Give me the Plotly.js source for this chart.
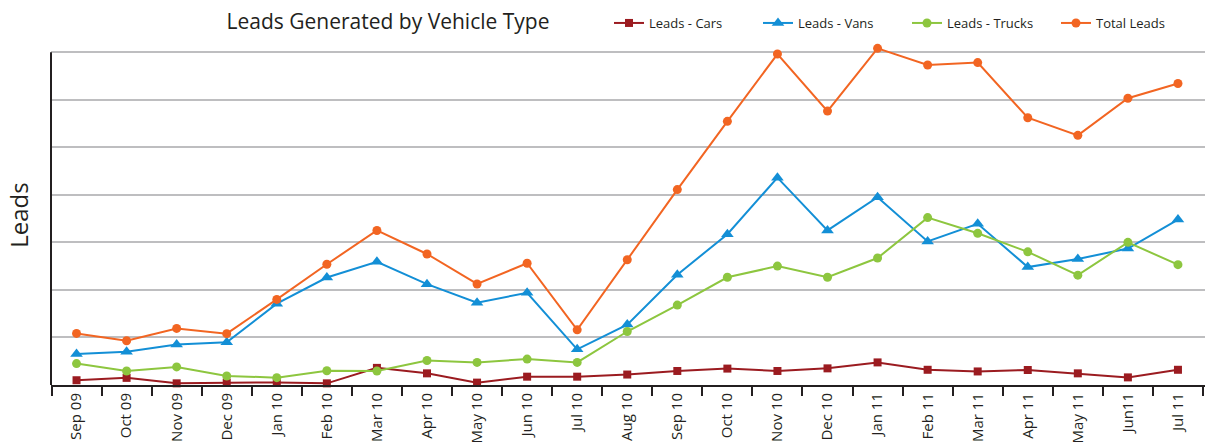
<!DOCTYPE html>
<html>
<head>
<meta charset="utf-8">
<script src="https://cdn.plot.ly/plotly-3.0.1.min.js"></script>
<style>html,body{margin:0;padding:0;background:#fff;}#chart{width:1207px;height:444px;}</style>
</head>
<body>
<div id="chart"></div>
<script>
const months = ["Sep 09","Oct 09","Nov 09","Dec 09","Jan 10","Feb 10","Mar 10","Apr 10","May 10","Jun 10","Jul 10","Aug 10","Sep 10","Oct 10","Nov 10","Dec 10","Jan 11","Feb 11","Mar 11","Apr 11","May 11","Jun11","Jul 11"];
const cars   = [1.0,1.5,0.35,0.5,0.55,0.35,3.6,2.45,0.5,1.75,1.75,2.2,2.95,3.45,2.95,3.5,4.75,3.2,2.85,3.15,2.45,1.6,3.2];
const vans   = [6.5,7.0,8.5,9.0,17.1,22.6,25.9,21.2,17.3,19.4,7.5,12.7,23.2,31.7,43.6,32.5,39.5,30.2,33.9,24.8,26.5,28.7,34.8];
const trucks = [4.5,2.95,3.8,1.9,1.55,3.0,2.95,5.15,4.75,5.45,4.75,11.25,16.8,22.65,25.0,22.65,26.7,35.2,31.9,28.0,23.1,30.0,25.3];
const total  = [10.85,9.3,11.9,10.8,18.0,25.4,32.5,27.55,21.25,25.6,11.6,26.35,41.1,55.45,69.6,57.6,70.8,67.3,67.8,56.2,52.5,60.3,63.4];
const yTop = 70;   // top gridline value
const yMax = 71.5; // room above the top gridline

const fontFam = "'Open Sans', 'Noto Sans', sans-serif";
const dark = "#231f20";

function tr(name, y, color, symbol, size) {
  return {
    type: "scatter", mode: "lines+markers", name: name,
    x: months, y: y, cliponaxis: false,
    line: {color: color, width: 2},
    marker: {color: color, symbol: symbol, size: size}
  };
}

const data = [
  tr("Leads - Cars", cars, "#9b1b20", "square", 8),
  tr("Leads - Vans", vans, "#138fd6", "triangle-up", 11),
  tr("Leads - Trucks", trucks, "#8dc63f", "circle", 9),
  tr("Total Leads", total, "#f26522", "circle", 9)
];

const layout = {
  width: 1207, height: 444,
  paper_bgcolor: "#fff", plot_bgcolor: "#fff",
  margin: {l: 51, r: 2, t: 45, b: 59},
  font: {family: fontFam, color: dark, size: 13},
  title: {text: "Leads Generated by Vehicle Type", x: 388/1207, xanchor: "center", y: 1 - 22/444, yanchor: "middle",
          font: {family: fontFam, size: 21, color: dark}},
  showlegend: true,
  legend: {orientation: "h", x: 1, xanchor: "right", y: (444 - 59 - 23) / (444 - 59 - 45), yanchor: "middle",
           font: {family: fontFam, size: 13, color: dark}, bgcolor: "rgba(0,0,0,0)", itemwidth: 30,
           entrywidth: 104, entrywidthmode: "pixels", traceorder: "normal"},
  xaxis: {
    type: "category", range: [-0.51, 22.54], tickson: "boundaries",
    ticks: "outside", ticklen: 9, tickwidth: 2, tickcolor: dark,
    showline: true, linewidth: 2, linecolor: dark, showgrid: false,
    tickangle: -90, tickfont: {family: fontFam, size: 15, color: dark}, automargin: false
  },
  yaxis: {
    range: [0, yMax], tick0: 0, dtick: 10, showticklabels: false, ticks: "",
    showgrid: true, gridcolor: "#bebec0", gridwidth: 2, zeroline: false,
    showline: false, automargin: false,
    title: {text: "Leads", standoff: 14, font: {family: fontFam, size: 24, color: dark}}
  },
  shapes: [
    {type: "line", xref: "paper", yref: "y", x0: 0, x1: 0, y0: 0, y1: yTop,
     line: {color: dark, width: 2}}
  ]
};

Plotly.newPlot("chart", data, layout, {displayModeBar: false, staticPlot: true});
</script>
</body>
</html>
